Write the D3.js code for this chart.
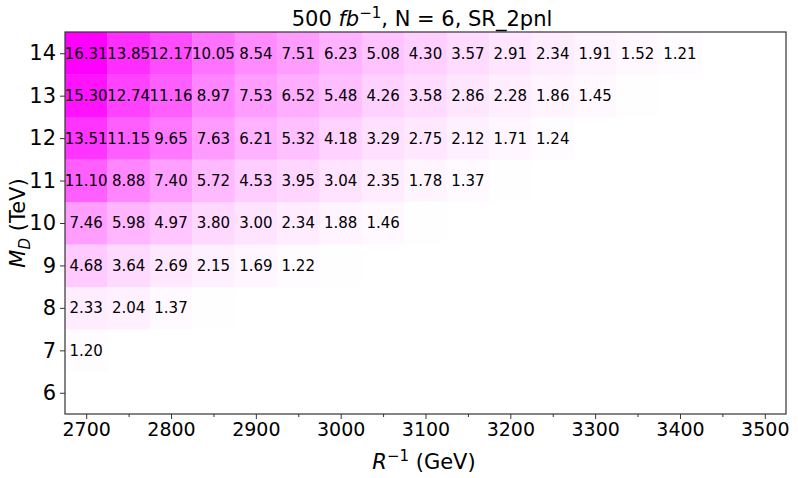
<!DOCTYPE html>
<html>
<head>
<meta charset="utf-8">
<script src="https://cdn.jsdelivr.net/npm/d3@7"></script>
<style>
  html, body { margin: 0; padding: 0; background: #fff; }
  svg { display: block; font-family: "DejaVu Sans", sans-serif; }
</style>
</head>
<body>
<div id="chart"></div>
<script>
// ---------------- data ----------------
const rInv = [2700, 2750, 2800, 2850, 2900, 2950, 3000, 3050, 3100, 3150, 3200, 3250, 3300, 3350, 3400, 3450, 3500]; // GeV
const mD = [6, 7, 8, 9, 10, 11, 12, 13, 14]; // TeV
// significance per M_D row, starting at R^-1 = 2700 GeV
const row6 = [];
const row7 = [1.20];
const row8 = [2.33, 2.04, 1.37, 1.10];
const row9 = [4.68, 3.64, 2.69, 2.15, 1.69, 1.22, 1.08];
const row10 = [7.46, 5.98, 4.97, 3.80, 3.00, 2.34, 1.88, 1.46, 1.12];
const row11 = [11.10, 8.88, 7.40, 5.72, 4.53, 3.95, 3.04, 2.35, 1.78, 1.37, 1.09];
const row12 = [13.51, 11.15, 9.65, 7.63, 6.21, 5.32, 4.18, 3.29, 2.75, 2.12, 1.71, 1.24];
const row13 = [15.30, 12.74, 11.16, 8.97, 7.53, 6.52, 5.48, 4.26, 3.58, 2.86, 2.28, 1.86, 1.45, 1.10];
const row14 = [16.31, 13.85, 12.17, 10.05, 8.54, 7.51, 6.23, 5.08, 4.30, 3.57, 2.91, 2.34, 1.91, 1.52, 1.21];
const rows = [row6, row7, row8, row9, row10, row11, row12, row13, row14];
const xTicks = [2700, 2800, 2900, 3000, 3100, 3200, 3300, 3400, 3500];
const xMinorTicks = [2750, 2850, 2950, 3050, 3150, 3250, 3350, 3450];
const yTicks = [6, 7, 8, 9, 10, 11, 12, 13, 14];
const labelThreshold = 1.2;

// ---------------- layout ----------------
const W = 798, H = 478;
const L = 65, R = 786, T = 32, B = 414;
const step = 50;

const svg = d3.select("#chart").append("svg").attr("width", W).attr("height", H);

const x = d3.scaleLinear().domain([rInv[0] - step / 2, rInv[rInv.length - 1] + step / 2]).range([L, R]);
const y = d3.scaleLinear().domain([mD[0] - 0.5, mD[mD.length - 1] + 0.5]).range([B, T]);
const norm = d3.scalePow().exponent(1.15).domain([1.0, d3.max(rows.flat())]).range([0, 1]).clamp(true);
const ramp = d3.interpolateRgb("#ffffff", "#ff00ff");
const color = v => ramp(norm(v));

const cells = [];
rows.forEach((row, i) => row.forEach((v, j) => cells.push({ x: rInv[j], y: mD[i], v })));

const g = svg.append("g");
g.selectAll("rect.cell").data(cells).join("rect")
  .attr("class", "cell")
  .attr("x", d => x(d.x - step / 2))
  .attr("width", d => x(d.x + step / 2) - x(d.x - step / 2) + 0.3)
  .attr("y", d => y(d.y + 0.5))
  .attr("height", d => y(d.y - 0.5) - y(d.y + 0.5) + 0.3)
  .attr("fill", d => color(d.v));

g.selectAll("text.val").data(cells.filter(d => d.v >= labelThreshold)).join("text")
  .attr("class", "val")
  .attr("x", d => x(d.x))
  .attr("y", d => y(d.y))
  .attr("dy", "0.36em")
  .attr("text-anchor", "middle")
  .attr("font-size", 15)
  .attr("fill", "#000")
  .text(d => d.v.toFixed(2));

// frame
svg.append("rect").attr("x", L).attr("y", T).attr("width", R - L).attr("height", B - T)
  .attr("fill", "none").attr("stroke", "#333").attr("stroke-width", 1.2);

// x axis
const xAxis = svg.append("g").attr("transform", `translate(0,${B})`)
  .call(d3.axisBottom(x).tickValues(xTicks).tickFormat(d3.format("d")).tickSize(5).tickPadding(4));
xAxis.select(".domain").remove();
xAxis.selectAll("text").attr("font-size", 19).attr("fill", "#000").attr("font-family", "DejaVu Sans");
xAxis.selectAll("line").attr("stroke", "#333");
svg.append("g").attr("transform", `translate(0,${B})`)
  .call(d3.axisBottom(x).tickValues(xMinorTicks).tickFormat("").tickSize(3))
  .call(s => s.select(".domain").remove())
  .selectAll("line").attr("stroke", "#333");

// y axis
const yAxis = svg.append("g").attr("transform", `translate(${L},0)`)
  .call(d3.axisLeft(y).tickValues(yTicks).tickFormat(d3.format("d")).tickSize(5).tickPadding(4));
yAxis.select(".domain").remove();
yAxis.selectAll("text").attr("font-size", 21).attr("fill", "#000").attr("font-family", "DejaVu Sans");
yAxis.selectAll("line").attr("stroke", "#333");

// title
const title = svg.append("text").attr("x", 422).attr("y", 26)
  .attr("text-anchor", "middle").attr("font-size", 21).attr("fill", "#000");
title.append("tspan").text("500 ");
title.append("tspan").attr("font-style", "italic").text("fb");
title.append("tspan").attr("dy", -8).attr("font-size", 15).text("\u22121");
title.append("tspan").attr("dy", 8).text(", N = 6, SR_2pnl");

// x label
const xl = svg.append("text").attr("x", 424).attr("y", 469)
  .attr("text-anchor", "middle").attr("font-size", 21).attr("fill", "#000");
xl.append("tspan").attr("font-style", "italic").text("R");
xl.append("tspan").attr("dy", -8).attr("font-size", 15).text("\u22121");
xl.append("tspan").attr("dy", 8).text(" (GeV)");

// y label
const yl = svg.append("text").attr("transform", `translate(25,${(T + B) / 2}) rotate(-90)`)
  .attr("text-anchor", "middle").attr("font-size", 21).attr("fill", "#000");
yl.append("tspan").attr("font-style", "italic").text("M");
yl.append("tspan").attr("dy", 5).attr("font-size", 15).attr("font-style", "italic").text("D");
yl.append("tspan").attr("dy", -5).text(" (TeV)");
</script>
</body>
</html>
